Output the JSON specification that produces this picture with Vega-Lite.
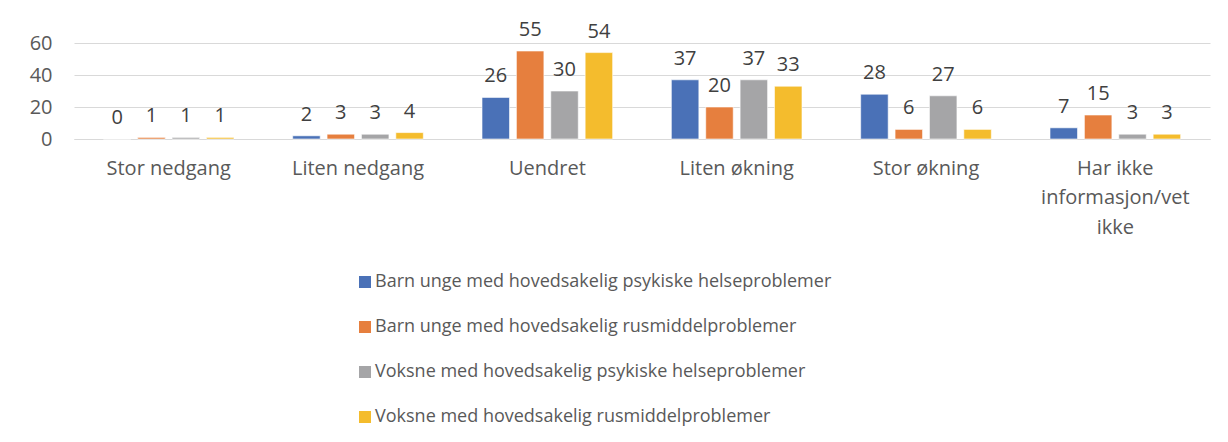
{
  "$schema": "https://vega.github.io/schema/vega-lite/v6.json",
  "width": 1136,
  "height": 96,
  "autosize": {"type": "none"},
  "padding": {"left": 74, "top": 43, "right": 18, "bottom": 303},
  "background": "white",
  "config": {"view": {"stroke": null}, "font": "Open Sans"},
  "data": {
    "values": [
      {"kategori": "Stor nedgang", "gruppe": "Barn unge med hovedsakelig psykiske helseproblemer", "verdi": 0},
      {"kategori": "Stor nedgang", "gruppe": "Barn unge med hovedsakelig rusmiddelproblemer", "verdi": 1},
      {"kategori": "Stor nedgang", "gruppe": "Voksne med hovedsakelig psykiske helseproblemer", "verdi": 1},
      {"kategori": "Stor nedgang", "gruppe": "Voksne med hovedsakelig rusmiddelproblemer", "verdi": 1},
      {"kategori": "Liten nedgang", "gruppe": "Barn unge med hovedsakelig psykiske helseproblemer", "verdi": 2},
      {"kategori": "Liten nedgang", "gruppe": "Barn unge med hovedsakelig rusmiddelproblemer", "verdi": 3},
      {"kategori": "Liten nedgang", "gruppe": "Voksne med hovedsakelig psykiske helseproblemer", "verdi": 3},
      {"kategori": "Liten nedgang", "gruppe": "Voksne med hovedsakelig rusmiddelproblemer", "verdi": 4},
      {"kategori": "Uendret", "gruppe": "Barn unge med hovedsakelig psykiske helseproblemer", "verdi": 26},
      {"kategori": "Uendret", "gruppe": "Barn unge med hovedsakelig rusmiddelproblemer", "verdi": 55},
      {"kategori": "Uendret", "gruppe": "Voksne med hovedsakelig psykiske helseproblemer", "verdi": 30},
      {"kategori": "Uendret", "gruppe": "Voksne med hovedsakelig rusmiddelproblemer", "verdi": 54},
      {"kategori": "Liten økning", "gruppe": "Barn unge med hovedsakelig psykiske helseproblemer", "verdi": 37},
      {"kategori": "Liten økning", "gruppe": "Barn unge med hovedsakelig rusmiddelproblemer", "verdi": 20},
      {"kategori": "Liten økning", "gruppe": "Voksne med hovedsakelig psykiske helseproblemer", "verdi": 37},
      {"kategori": "Liten økning", "gruppe": "Voksne med hovedsakelig rusmiddelproblemer", "verdi": 33},
      {"kategori": "Stor økning", "gruppe": "Barn unge med hovedsakelig psykiske helseproblemer", "verdi": 28},
      {"kategori": "Stor økning", "gruppe": "Barn unge med hovedsakelig rusmiddelproblemer", "verdi": 6},
      {"kategori": "Stor økning", "gruppe": "Voksne med hovedsakelig psykiske helseproblemer", "verdi": 27},
      {"kategori": "Stor økning", "gruppe": "Voksne med hovedsakelig rusmiddelproblemer", "verdi": 6},
      {"kategori": "Har ikke informasjon/vet ikke", "gruppe": "Barn unge med hovedsakelig psykiske helseproblemer", "verdi": 7},
      {"kategori": "Har ikke informasjon/vet ikke", "gruppe": "Barn unge med hovedsakelig rusmiddelproblemer", "verdi": 15},
      {"kategori": "Har ikke informasjon/vet ikke", "gruppe": "Voksne med hovedsakelig psykiske helseproblemer", "verdi": 3},
      {"kategori": "Har ikke informasjon/vet ikke", "gruppe": "Voksne med hovedsakelig rusmiddelproblemer", "verdi": 3}
    ]
  },
  "encoding": {
    "x": {
      "field": "kategori",
      "type": "nominal",
      "sort": ["Stor nedgang", "Liten nedgang", "Uendret", "Liten økning", "Stor økning", "Har ikke informasjon/vet ikke"],
      "scale": {"paddingInner": 0.31, "paddingOuter": 0.155},
      "axis": {
        "title": null,
        "labelAngle": 0,
        "labelFontSize": 20,
        "labelColor": "#595959",
        "labelPadding": 19,
        "labelLineHeight": 29.5,
        "ticks": false,
        "domainColor": "#d9d9d9",
        "labelExpr": "datum.value == 'Har ikke informasjon/vet ikke' ? ['Har ikke', 'informasjon/vet', 'ikke'] : datum.value"
      }
    },
    "xOffset": {
      "field": "gruppe",
      "type": "nominal",
      "sort": ["Barn unge med hovedsakelig psykiske helseproblemer", "Barn unge med hovedsakelig rusmiddelproblemer", "Voksne med hovedsakelig psykiske helseproblemer", "Voksne med hovedsakelig rusmiddelproblemer"],
      "scale": {"paddingInner": 0.2}
    },
    "y": {
      "field": "verdi",
      "type": "quantitative",
      "scale": {"domain": [0, 60]},
      "axis": {
        "title": null,
        "values": [0, 20, 40, 60],
        "ticks": false,
        "domain": false,
        "gridColor": "#d9d9d9",
        "labelFontSize": 20,
        "labelColor": "#595959",
        "labelPadding": 22
      }
    }
  },
  "layer": [
    {
      "mark": {"type": "bar", "stroke": "white", "strokeWidth": 0.6},
      "encoding": {
        "color": {
          "field": "gruppe",
          "type": "nominal",
          "sort": ["Barn unge med hovedsakelig psykiske helseproblemer", "Barn unge med hovedsakelig rusmiddelproblemer", "Voksne med hovedsakelig psykiske helseproblemer", "Voksne med hovedsakelig rusmiddelproblemer"],
          "scale": {
            "domain": ["Barn unge med hovedsakelig psykiske helseproblemer", "Barn unge med hovedsakelig rusmiddelproblemer", "Voksne med hovedsakelig psykiske helseproblemer", "Voksne med hovedsakelig rusmiddelproblemer"],
            "range": ["#4A71B7", "#E67F3E", "#A5A5A7", "#F4BC2D"]
          },
          "legend": {
            "title": null,
            "orient": "none",
            "legendX": 282,
            "legendY": 230,
            "direction": "vertical",
            "symbolType": "square",
            "symbolSize": 144,
            "symbolStrokeWidth": 0,
            "labelFontSize": 18,
            "labelColor": "#595959",
            "labelOffset": 1,
            "rowPadding": 27,
            "labelLimit": 700
          }
        }
      }
    },
    {
      "mark": {"type": "text", "baseline": "bottom", "dy": -11, "fontSize": 20, "color": "#404040"},
      "encoding": {
        "text": {"field": "verdi", "type": "quantitative"}
      }
    }
  ]
}
